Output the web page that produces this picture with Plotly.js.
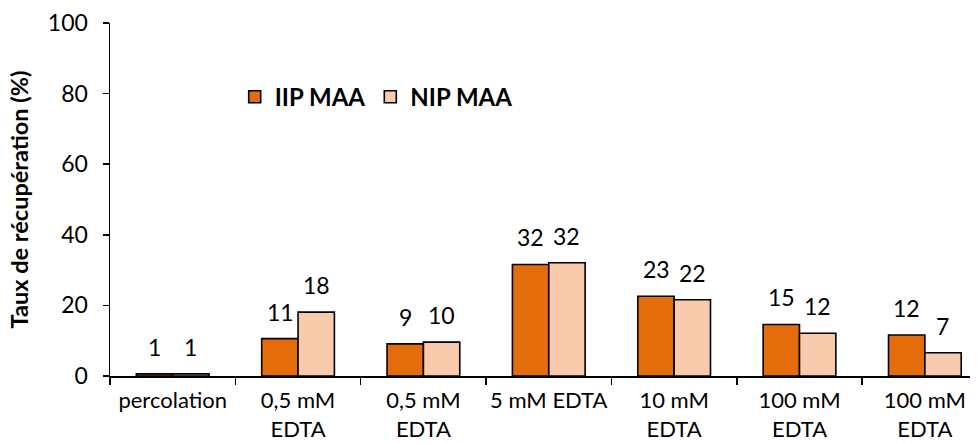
<!DOCTYPE html>
<html>
<head>
<meta charset="utf-8">
<script src="https://cdn.plot.ly/plotly-3.0.1.min.js"></script>
<style>html,body{margin:0;padding:0;background:#fff;}</style>
</head>
<body>
<div id="chart" style="width:977px;height:443px;"></div>
<script>
// Categories (trailing zero-width space keeps duplicate labels as separate categories)
const categories = ["percolation", "0,5 mM<br>EDTA", "0,5 mM<br>EDTA\u200b", "5 mM EDTA", "10 mM<br>EDTA", "100 mM<br>EDTA", "100 mM<br>EDTA\u200b"];
const iipValues = [0.6, 10.6, 9.1, 31.6, 22.6, 14.6, 11.6];
const nipValues = [0.6, 18.1, 9.6, 32.1, 21.6, 12.1, 6.6];
const seriesNames = ["IIP MAA", "NIP MAA"];
const yTicks = [0, 20, 40, 60, 80, 100];

const FONT = "Lato, 'Open Sans', sans-serif";
const barLine = {color: "#000000", width: 1.6};

const traces = [
  {type: "bar", name: seriesNames[0], x: categories, y: iipValues,
   marker: {color: "#E46C0A", line: barLine}},
  {type: "bar", name: seriesNames[1], x: categories, y: nipValues,
   marker: {color: "#F8CBAD", line: barLine}}
];

const annotations = [];
[iipValues, nipValues].forEach((vals, s) => {
  vals.forEach((v, i) => {
    annotations.push({
      x: categories[i], y: v, xref: "x", yref: "y",
      text: String(Math.round(v)), showarrow: false,
      xshift: s === 0 ? -18 : 18, yshift: 27, yanchor: "middle",
      font: {family: FONT, size: 23, color: "#000"}
    });
  });
});

const layout = {
  width: 977, height: 443,
  margin: {l: 110, r: 7, t: 23, b: 67},
  paper_bgcolor: "#fff", plot_bgcolor: "#fff",
  barmode: "group", bargap: 0.42, bargroupgap: 0,
  font: {family: FONT, color: "#000"},
  showlegend: true,
  legend: {orientation: "h", x: 0.145, y: 0.79, xanchor: "left", yanchor: "middle",
           font: {family: FONT, size: 24, color: "#000", weight: "bold"},
           bgcolor: "rgba(0,0,0,0)", itemwidth: 30, traceorder: "normal"},
  xaxis: {type: "category", range: [-0.5, 6.36], showline: true, linecolor: "#000", linewidth: 1.5,
          ticks: "outside", ticklen: 7, tickwidth: 1.5, tickcolor: "#000", tickson: "boundaries",
          showgrid: false, zeroline: false, tickangle: 0, ticklabelstandoff: 4,
          tickfont: {family: FONT, size: 22, color: "#000"}},
  yaxis: {range: [0, 100], tickvals: yTicks, showline: true, linecolor: "#000", linewidth: 1.5,
          ticks: "outside", ticklen: 6, tickwidth: 1.5, tickcolor: "#000",
          showgrid: false, zeroline: false, ticklabelstandoff: 10,
          tickfont: {family: FONT, size: 23, color: "#000"},
          title: {text: "Taux de récupération (%)", standoff: 12,
                  font: {family: FONT, size: 23.5, color: "#000", weight: "bold"}}},
  annotations: annotations
};

Plotly.newPlot("chart", traces, layout, {displayModeBar: false, staticPlot: true});
</script>
</body>
</html>
